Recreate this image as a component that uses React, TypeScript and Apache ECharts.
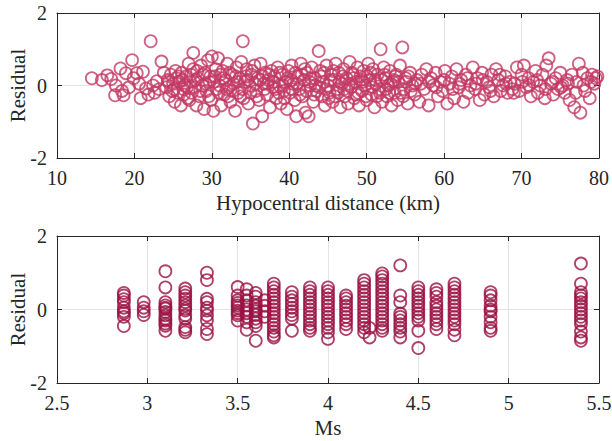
import React, { useEffect, useRef } from "react";
import * as echarts from "echarts";

// Top panel: hypocentral distance (km) vs residual
const distance: number[] = [
  14.5, 15.8, 16.5, 17.0, 17.6, 17.5, 18.2, 18.4, 18.6, 18.9, 19.3, 19.7, 19.9, 20.3, 20.6, 20.8, 21.1, 21.5, 21.8, 22.1,
  22.4, 22.6, 22.9, 23.2, 23.5, 23.8, 24.1, 24.3, 24.5, 24.7, 24.9, 25.0, 25.2, 25.4, 25.6, 25.8, 26.0, 26.1, 26.3, 26.5,
  26.7, 26.9, 27.0, 27.2, 27.4, 27.6, 27.8, 27.6, 28.0, 28.2, 28.4, 28.6, 28.8, 29.0, 29.1, 29.3, 29.5, 29.7, 29.9, 30.0,
  30.2, 30.4, 30.6, 30.8, 31.0, 31.2, 31.4, 31.6, 31.8, 32.0, 32.2, 32.4, 32.6, 32.8, 33.0, 33.2, 33.4, 33.6, 33.8, 34.0,
  34.1, 34.3, 34.5, 34.7, 34.9, 35.1, 35.3, 35.5, 35.7, 35.9, 36.1, 36.3, 36.5, 36.7, 36.9, 37.1, 37.3, 37.5, 37.7, 37.9,
  38.1, 38.3, 38.5, 38.7, 38.9, 39.1, 39.3, 39.5, 39.7, 39.9, 40.1, 40.3, 40.5, 40.7, 40.9, 41.1, 41.3, 41.5, 41.7, 41.9,
  42.1, 42.3, 42.5, 42.7, 42.9, 43.1, 43.3, 43.5, 43.8, 44.0, 44.2, 44.4, 44.6, 44.8, 45.0, 45.2, 45.4, 45.6, 45.8, 46.0,
  46.2, 46.4, 46.6, 46.8, 47.0, 47.2, 47.4, 47.6, 47.8, 48.0, 48.2, 48.4, 48.6, 48.8, 49.0, 49.2, 49.4, 49.6, 49.8, 50.0,
  50.2, 50.4, 50.6, 50.8, 51.0, 51.2, 51.4, 51.6, 51.8, 52.0, 52.2, 52.4, 52.6, 52.8, 53.0, 53.2, 53.4, 53.6, 53.8, 54.0,
  54.3, 54.6, 54.8, 55.0, 55.3, 55.6, 55.9, 56.2, 56.5, 56.8, 57.1, 57.4, 57.7, 58.0, 58.3, 58.6, 58.9, 59.2, 59.5, 59.8,
  60.1, 60.4, 60.7, 61.0, 61.3, 61.6, 61.9, 62.2, 62.5, 62.8, 63.1, 63.4, 63.7, 64.0, 64.3, 64.6, 64.9, 65.2, 65.5, 65.8,
  66.1, 66.4, 66.7, 67.0, 67.3, 67.6, 67.9, 68.2, 68.5, 68.8, 69.1, 69.4, 69.7, 70.0, 70.3, 70.6, 70.9, 71.2, 71.5, 71.8,
  72.1, 72.4, 72.7, 73.0, 73.2, 73.5, 73.8, 74.1, 74.4, 74.7, 75.0, 75.3, 75.6, 75.9, 76.2, 76.5, 76.8, 77.1, 77.4, 77.6,
  77.9, 78.2, 78.5, 78.8, 79.1, 79.4, 79.6, 79.8,
  24.4, 25.1, 25.7, 26.2, 26.8, 27.3, 27.9, 28.5, 29.2, 29.8, 30.3, 30.9, 31.5, 32.1, 32.7, 33.3, 33.9, 34.4, 35.0, 35.6,
  36.2, 36.8, 37.4, 38.0, 38.6, 39.2, 39.8, 40.4, 41.0, 41.6, 42.2, 42.8, 43.4, 44.1, 44.7, 45.3, 45.9, 46.5, 47.1, 47.7,
  48.3, 48.9, 49.5, 50.1, 50.7, 51.3, 51.9, 52.5, 53.1, 53.7, 54.4, 55.1, 55.7, 56.3,
  25.3, 26.4, 27.1, 28.1, 28.9, 29.6, 30.5, 31.1, 31.9, 32.3, 33.1, 33.7, 34.6, 35.2, 35.8, 36.6, 37.2, 38.2, 38.8, 39.4,
  40.2, 40.8, 41.4, 42.0, 42.6, 43.2, 43.9, 44.5, 45.1, 45.7, 46.3, 46.9, 47.5, 48.1, 48.7, 49.3, 49.9, 50.5, 51.1, 51.7,
  52.3, 52.9, 53.5, 54.1, 54.7, 55.4,
  57.0, 58.1, 59.0, 60.0, 61.1, 62.0, 63.0, 64.1, 65.0, 66.0, 67.2, 68.0, 69.0, 70.1, 71.0, 72.0, 73.1, 74.0, 75.1, 76.0,
  77.0, 78.0, 79.0,
];
const residualByDistance: number[] = [
  0.2, 0.15, 0.28, 0.18, 0.0, -0.27, 0.47, -0.15, -0.27, 0.34, -0.05, 0.7, 0.2, 0.34, 0.05, -0.35, 0.38, -0.08, -0.25, 1.22,
  0.0, -0.2, 0.12, -0.1, 0.66, 0.35, -0.05, 0.15, -0.3, 0.3, -0.15, 0.05, -0.45, 0.2, -0.2, 0.1, -0.55, 0.35, -0.1, 0.0,
  0.25, -0.35, 0.6, 0.1, -0.2, 0.45, -0.05, 0.9, -0.55, 0.2, -0.3, 0.55, 0.0, -0.65, 0.35, -0.15, 0.7, 0.1, -0.4, 0.8,
  -0.7, 0.25, -0.1, 0.75, 0.0, -0.55, 0.4, -0.25, 0.15, 0.6, -0.05, -0.45, 0.3, 0.05, -0.7, 0.5, -0.2, 0.2, 0.65, 1.22,
  -0.35, 0.1, 0.45, -0.5, 0.0, 0.3, -1.05, 0.55, -0.15, 0.2, -0.4, 0.6, -0.85, 0.05, 0.35, -0.25, 0.15, -0.6, 0.4, -0.05,
  0.25, -0.35, 0.5, 0.0, -0.5, 0.3, -0.15, 0.1, -0.65, 0.4, -0.2, 0.55, 0.05, -0.4, -0.85, 0.25, -0.1, 0.6, -0.3, 0.15,
  -0.75, 0.35, -0.85, 0.0, 0.5, -0.45, 0.2, -0.15, 0.95, 0.4, -0.3, 0.1, -0.55, 0.55, 0.0, -0.2, 0.3, -0.45, 0.15, 0.6,
  -0.1, 0.35, -0.6, 0.05, 0.45, -0.3, 0.2, -0.5, 0.65, -0.05, 0.3, -0.35, 0.1, 0.5, -0.55, 0.25, -0.15, 0.4, 0.0, -0.4,
  0.6, 0.15, -0.25, 0.45, -0.6, 0.05, 0.3, -0.1, 1.0, -0.45, 0.5, 0.2, -0.3, 0.0, 0.4, -0.55, 0.1, -0.2, 0.3, -0.4,
  0.55, 1.05, -0.1, 0.2, -0.5, 0.35, 0.0, -0.25, 0.15, -0.45, 0.3, -0.1, 0.45, -0.55, 0.2, 0.0, 0.35, -0.3, 0.1, -0.15,
  0.4, -0.5, 0.05, 0.25, -0.35, 0.45, -0.05, 0.15, -0.45, 0.3, -0.2, 0.0, 0.5, -0.1, 0.2, -0.4, 0.35, -0.25, 0.1, -0.05,
  0.3, -0.3, 0.45, 0.15, -0.15, 0.0, 0.25, -0.2, 0.1, -0.1, 0.05, 0.5, -0.15, 0.3, 0.55, -0.05, 0.2, -0.3, 0.1, 0.4,
  -0.2, 0.0, 0.3, -0.35, 0.55, 0.75, 0.05, -0.25, 0.2, -0.1, 0.35, 0.0, -0.2, 0.15, -0.4, 0.3, -0.6, 0.1, 0.6, -0.75,
  0.35, -0.15, 0.2, -0.35, 0.3, 0.05, 0.2, 0.25,
  0.1, -0.1, 0.25, 0.15, -0.05, 0.3, 0.15, -0.15, 0.05, 0.25, 0.1, -0.2, 0.2, -0.3, -0.15, 0.1, -0.1, 0.25, -0.2, 0.05,
  0.15, -0.1, 0.3, 0.1, -0.2, 0.0, 0.2, -0.1, 0.05, 0.3, -0.15, 0.2, 0.0, 0.25, -0.1, 0.15, -0.3, 0.1, -0.1, 0.05,
  0.2, -0.2, 0.1, 0.25, -0.05, -0.3, 0.15, -0.1, 0.05, 0.25, -0.2, 0.1, -0.15, 0.05,
  0.4, -0.25, -0.4, 0.4, 0.3, -0.3, 0.45, 0.3, -0.1, 0.35, 0.25, -0.3, 0.15, 0.4, -0.3, 0.25, 0.05, -0.1, 0.35, -0.35,
  0.15, 0.35, -0.25, 0.45, 0.1, -0.25, -0.05, 0.35, -0.35, 0.4, -0.2, 0.25, -0.15, 0.35, -0.25, 0.15, -0.3, 0.35, 0.15, -0.2,
  0.3, -0.2, 0.15, 0.1, -0.3, 0.25,
  0.05, 0.1, -0.05, 0.15, -0.1, 0.05, 0.2, 0.05, 0.15, -0.15, 0.3, 0.05, -0.2, 0.1, 0.0, 0.15, -0.1, 0.1, -0.05, 0.05,
  -0.2, 0.0, 0.1,
];

// Bottom panel: Ms columns and residuals in each column
const msLevels: number[] = [2.87, 2.98, 3.1, 3.21, 3.33, 3.5, 3.55, 3.6, 3.65, 3.7, 3.8, 3.9, 4.0, 4.1, 4.2, 4.23, 4.3, 4.4, 4.5, 4.6, 4.7, 4.9, 5.4];
const msResiduals: number[][] = [
  [0.45, 0.38, 0.28, 0.2, 0.05, -0.05, -0.1, -0.2, -0.45],
  [0.2, 0.05, -0.05, -0.15],
  [1.04, 0.6, 0.2, 0.11, 0.05, 0.02, -0.07, -0.16, -0.25, -0.3, -0.38, -0.44, -0.58],
  [0.57, 0.47, 0.38, 0.29, 0.2, 0.11, 0.02, -0.03, -0.16, -0.25, -0.48, -0.55, -0.62],
  [1.0, 0.8, 0.29, 0.2, 0.05, -0.03, -0.16, -0.3, -0.53, -0.67],
  [0.61, 0.38, 0.25, 0.18, 0.11, 0.05, -0.03, -0.1, -0.16, -0.3],
  [0.55, 0.38, 0.25, 0.11, 0.0, -0.1, -0.2, -0.35, -0.55],
  [0.45, 0.35, 0.2, 0.1, 0.0, -0.05, -0.15, -0.25, -0.35, -0.45, -0.85],
  [0.25, 0.1, -0.05, -0.2],
  [0.7, 0.6, 0.5, 0.4, 0.3, 0.2, 0.1, 0.0, -0.1, -0.2, -0.3, -0.4, -0.5, -0.6, -0.7, -0.76],
  [0.47, 0.35, 0.25, 0.15, 0.05, -0.05, -0.15, -0.25, -0.58],
  [0.6, 0.5, 0.4, 0.3, 0.2, 0.1, 0.0, -0.1, -0.2, -0.3, -0.4, -0.5, -0.58],
  [0.6, 0.5, 0.4, 0.3, 0.2, 0.1, 0.0, -0.1, -0.2, -0.3, -0.4, -0.5, -0.62, -0.8],
  [0.38, 0.3, 0.2, 0.1, 0.0, -0.1, -0.2, -0.3, -0.4, -0.53],
  [0.8, 0.7, 0.6, 0.5, 0.4, 0.3, 0.2, 0.1, 0.0, -0.1, -0.2, -0.3, -0.4, -0.5, -0.62],
  [-0.76, -0.5],
  [0.98, 0.9, 0.8, 0.7, 0.6, 0.5, 0.4, 0.3, 0.2, 0.1, 0.0, -0.1, -0.2, -0.3, -0.4, -0.5, -0.58],
  [1.2, 0.38, 0.2, -0.11, -0.2, -0.3, -0.4, -0.5, -0.6, -0.76],
  [0.6, 0.5, 0.4, 0.3, 0.2, 0.1, 0.0, -0.1, -0.2, -0.3, -0.58, -1.05],
  [0.55, 0.45, 0.35, 0.2, 0.1, 0.0, -0.1, -0.2, -0.3, -0.4, -0.53],
  [0.7, 0.6, 0.5, 0.4, 0.3, 0.2, 0.1, 0.0, -0.1, -0.2, -0.3, -0.4, -0.55, -0.7],
  [0.47, 0.38, 0.25, 0.1, 0.0, -0.05, -0.2, -0.35, -0.5, -0.58],
  [1.25, 0.7, 0.47, 0.38, 0.3, 0.2, 0.1, 0.0, -0.1, -0.2, -0.3, -0.4, -0.6, -0.76, -0.85],
];

const topTitleX = "Hypocentral distance (km)";
const bottomTitleX = "Ms";
const titleY = "Residual";

const FONT = "Liberation Serif";
const AXIS_COLOR = "#262626";
const FS = 21;
const TICK_FS = 20;

function xAxes(min: number, max: number, interval: number, name: string, gridIndex: number, nameGap: number) {
  const common = {
    type: "value" as const,
    gridIndex,
    min,
    max,
    interval,
    axisLine: { show: true, onZero: false, lineStyle: { color: AXIS_COLOR, width: 1 } },
    axisTick: { show: true, inside: true, length: 5, lineStyle: { color: AXIS_COLOR } },
  };
  return [
    {
      ...common,
      position: "bottom",
      name,
      nameLocation: "middle",
      nameGap,
      nameMoveOverlap: false,
      nameTextStyle: { fontFamily: FONT, fontSize: FS, color: "#262626" },
      axisLabel: { fontFamily: FONT, fontSize: TICK_FS, color: "#262626", margin: 10, hideOverlap: false },
      splitLine: { show: true, lineStyle: { color: "#e3e3e3", width: 1 } },
    },
    {
      ...common,
      position: "top",
      axisLabel: { show: false },
      splitLine: { show: false },
    },
  ];
}

function yAxes(gridIndex: number) {
  const common = {
    type: "value" as const,
    gridIndex,
    min: -2,
    max: 2,
    interval: 2,
    axisLine: { show: true, onZero: false, lineStyle: { color: AXIS_COLOR, width: 1 } },
    axisTick: { show: true, inside: true, length: 5, lineStyle: { color: AXIS_COLOR } },
  };
  return [
    {
      ...common,
      position: "left",
      name: titleY,
      nameLocation: "middle",
      nameGap: 29,
      nameMoveOverlap: false,
      nameTextStyle: { fontFamily: FONT, fontSize: FS, color: "#262626" },
      axisLabel: { fontFamily: FONT, fontSize: TICK_FS, color: "#262626", margin: 10 },
      splitLine: { show: true, lineStyle: { color: "#e3e3e3", width: 1 } },
    },
    {
      ...common,
      position: "right",
      axisLabel: { show: false },
      splitLine: { show: false },
    },
  ];
}

export default function App() {
  const ref = useRef<HTMLDivElement>(null);
  useEffect(() => {
    document.body.style.margin = "0";
    if (!ref.current) return;
    const chart = echarts.init(ref.current, undefined, { renderer: "svg" });
    const topData = distance.map((d, i) => [d, residualByDistance[i]]);
    const bottomData: number[][] = [];
    msLevels.forEach((m, i) => {
      msResiduals[i].forEach((r) => bottomData.push([m, r]));
    });
    chart.setOption({
      animation: false,
      backgroundColor: "#ffffff",
      grid: [
        { left: 57, top: 13, width: 542, height: 145, containLabel: false, outerBoundsMode: "none" },
        { left: 57, top: 236, width: 542, height: 147, containLabel: false, outerBoundsMode: "none" },
      ],
      xAxis: [...xAxes(10, 80, 10, topTitleX, 0, 34), ...xAxes(2.5, 5.5, 0.5, bottomTitleX, 1, 34)],
      yAxis: [...yAxes(0), ...yAxes(1)],
      series: [
        {
          type: "scatter",
          xAxisIndex: 0,
          yAxisIndex: 0,
          data: topData,
          symbol: "circle",
          symbolSize: 12,
          itemStyle: { color: "rgba(0,0,0,0)", borderColor: "#c23a65", borderWidth: 1.8 },
        },
        {
          type: "scatter",
          xAxisIndex: 2,
          yAxisIndex: 2,
          data: bottomData,
          symbol: "circle",
          symbolSize: 12,
          itemStyle: { color: "rgba(0,0,0,0)", borderColor: "#9a1242", borderWidth: 1.8 },
        },
      ],
    });
    return () => chart.dispose();
  }, []);
  return <div ref={ref} style={{ width: 612, height: 441 }} />;
}
